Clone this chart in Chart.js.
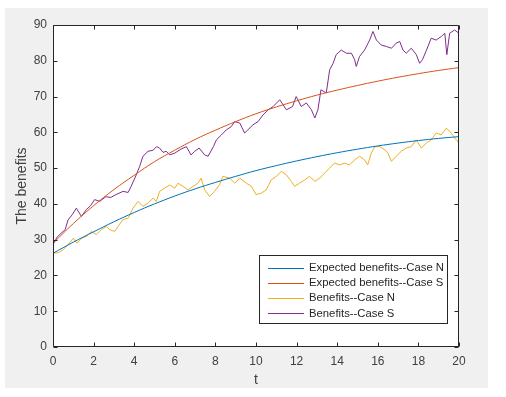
<!DOCTYPE html>
<html>
<head>
<meta charset="utf-8">
<script src="https://cdn.jsdelivr.net/npm/chart.js@4.4.1/dist/chart.umd.min.js"></script>
<style>
  html, body { margin: 0; padding: 0; background: #ffffff; }
  canvas { display: block; }
</style>
</head>
<body>
<canvas id="grafico" width="506" height="397"></canvas>
<script>
// Ticks
const xTicks = [0, 2, 4, 6, 8, 10, 12, 14, 16, 18, 20];
const yTicks = [0, 10, 20, 30, 40, 50, 60, 70, 80, 90];

// Expected curves (read at every unit of t)
const tExpected = [0, 1, 2, 3, 4, 5, 6, 7, 8, 9, 10, 11, 12, 13, 14, 15, 16, 17, 18, 19, 20];
const expectedN = [26.2, 29.3, 32.2, 35.0, 37.6, 40.0, 42.2, 44.2, 46.0, 47.7, 49.3, 50.7, 52.0, 53.2, 54.3, 55.3, 56.2, 57.0, 57.7, 58.3, 58.8];
const expectedS = [29.0, 34.5, 39.5, 44.0, 48.0, 51.8, 55.0, 58.0, 60.6, 63.0, 65.2, 67.1, 68.8, 70.4, 71.8, 73.1, 74.3, 75.4, 76.4, 77.3, 78.1];

// Benefits -- Case N (simulated path)
const tBenefitsN = [0, 0.25, 0.5, 0.74, 1.0, 1.18, 1.4, 1.64, 1.9, 2.13, 2.38, 2.63, 2.8, 3.04, 3.2, 3.45, 3.7, 3.94, 4.19, 4.43,
  4.68, 4.93, 5.09, 5.25, 5.5, 5.75, 6.0, 6.16, 6.4, 6.65, 6.9, 7.14, 7.3, 7.47, 7.72, 7.96, 8.2, 8.37, 8.7, 8.95,
  9.2, 9.52, 9.77, 10.0, 10.26, 10.5, 10.75, 11.0, 11.25, 11.5, 11.74, 11.9, 12.15, 12.4, 12.64, 12.9, 13.14, 13.38, 13.63, 13.87,
  14.12, 14.37, 14.6, 14.86, 15.1, 15.35, 15.5, 15.68, 15.85, 16.1, 16.35, 16.5, 16.67, 16.9, 17.16, 17.4, 17.65, 17.9, 18.14, 18.39,
  18.63, 18.88, 19.13, 19.38, 19.62, 19.79, 20];
const benefitsN = [26.3, 26.3, 27.2, 28.6, 30.4, 29.0, 30.4, 30.9, 32.3, 31.4, 32.8, 33.7, 32.8, 32.3, 33.7, 35.6, 36.0, 38.8, 40.7, 39.3,
  40.2, 41.6, 40.7, 43.5, 44.4, 45.3, 44.4, 45.8, 44.9, 43.9, 44.9, 45.8, 47.2, 43.9, 42.1, 43.5, 45.3, 47.7, 47.2, 45.8,
  47.2, 45.8, 44.9, 42.6, 43.0, 43.9, 46.7, 47.7, 49.1, 48.1, 46.3, 44.9, 45.8, 46.7, 47.7, 46.3, 47.2, 48.6, 50.0, 51.4,
  50.9, 51.4, 50.9, 52.3, 53.3, 52.3, 50.9, 54.2, 56.0, 56.0, 55.1, 54.2, 51.9, 53.3, 54.7, 55.6, 56.0, 57.9, 55.6, 57.0,
  57.9, 59.8, 59.3, 61.2, 59.8, 58.4, 57.0];

// Benefits -- Case S (simulated path, drops to 0 at the last step)
const tBenefitsS = [0, 0.2, 0.4, 0.6, 0.74, 0.95, 1.15, 1.4, 1.64, 1.85, 2.05, 2.3, 2.6, 2.85, 3.1, 3.45, 3.7, 3.85, 4.1, 4.27,
  4.43, 4.68, 4.93, 5.1, 5.25, 5.42, 5.58, 5.75, 6.0, 6.3, 6.57, 6.8, 6.98, 7.2, 7.47, 7.64, 7.9, 8.05, 8.3, 8.54,
  8.78, 8.95, 9.2, 9.44, 9.6, 9.85, 10.1, 10.35, 10.6, 10.84, 11.17, 11.33, 11.5, 11.8, 11.98, 12.23, 12.48, 12.73, 12.9, 13.05,
  13.2, 13.46, 13.63, 13.8, 13.95, 14.2, 14.45, 14.7, 14.86, 14.94, 15.1, 15.35, 15.6, 15.76, 15.93, 16.17, 16.42, 16.67, 16.9, 17.08,
  17.24, 17.4, 17.65, 17.9, 18.06, 18.2, 18.4, 18.63, 18.88, 19.13, 19.3, 19.4, 19.54, 19.78, 20, 20];
const benefitsS = [28.6, 30.7, 31.8, 32.8, 35.5, 37.0, 38.8, 36.5, 38.4, 39.5, 41.2, 40.7, 42.0, 41.8, 42.6, 43.5, 43.2, 44.9, 48.1, 50.5,
  53.3, 54.7, 55.0, 56.0, 55.6, 54.4, 54.7, 53.7, 54.2, 55.3, 56.0, 53.7, 54.7, 55.6, 53.7, 53.3, 56.0, 57.9, 59.3, 60.7,
  61.6, 63.0, 62.6, 59.8, 60.7, 62.1, 63.0, 64.9, 66.3, 67.2, 69.1, 67.7, 66.3, 67.2, 70.0, 67.2, 68.2, 66.3, 64.0, 66.3,
  71.9, 71.0, 77.5, 79.3, 81.7, 83.0, 82.1, 82.1, 80.3, 78.4, 81.2, 83.0, 85.8, 88.2, 85.8, 84.4, 84.0, 83.5, 84.9, 85.4,
  83.0, 82.1, 83.5, 81.7, 79.3, 80.3, 83.0, 86.3, 85.8, 86.8, 87.7, 81.7, 87.7, 88.6, 87.7, 0];

const seriesLabels = ["Expected benefits--Case N", "Expected benefits--Case S", "Benefits--Case N", "Benefits--Case S"];
const seriesColors = ["#0072BD", "#D95319", "#EDB120", "#7E2F8E"];

function puntos(xs, ys) {
    return xs.map((x, i) => ({ x: x, y: ys[i] }));
}

const TEXTO = "#404040";
const FUENTE = "'Liberation Sans', Arial, sans-serif";

// Fondo gris de la figura y área blanca de los ejes
const fondoFigura = {
    id: "fondoFigura",
    beforeDraw(chart) {
        const ctx = chart.ctx;
        const a = chart.chartArea;
        ctx.save();
        ctx.fillStyle = "#ffffff";
        ctx.fillRect(0, 0, chart.width, chart.height);
        ctx.fillStyle = "#f0f0f0";
        ctx.fillRect(5, 8, 483, 380);
        ctx.fillStyle = "#ffffff";
        ctx.fillRect(a.left, a.top, a.right - a.left, a.bottom - a.top);
        ctx.restore();
    }
};

// Caja de ejes con marcas hacia dentro y leyenda estilo MATLAB
const ejesMatlab = {
    id: "ejesMatlab",
    afterDatasetsDraw(chart) {
        const ctx = chart.ctx;
        const a = chart.chartArea;
        const xs = chart.scales.x;
        const ys = chart.scales.y;
        const L = Math.round(a.left) + 0.5, R = Math.round(a.right) - 0.5;
        const T = Math.round(a.top) + 0.5, B = Math.round(a.bottom) - 0.5;
        const largo = 4;
        ctx.save();
        ctx.strokeStyle = "#262626";
        ctx.lineWidth = 1;
        ctx.beginPath();
        ctx.rect(L, T, R - L, B - T);
        xTicks.forEach((v) => {
            const px = Math.round(xs.getPixelForValue(v)) + 0.5;
            ctx.moveTo(px, B); ctx.lineTo(px, B - largo);
            ctx.moveTo(px, T); ctx.lineTo(px, T + largo);
        });
        yTicks.forEach((v) => {
            const py = Math.round(ys.getPixelForValue(v)) + 0.5;
            ctx.moveTo(L, py); ctx.lineTo(L + largo, py);
            ctx.moveTo(R, py); ctx.lineTo(R - largo, py);
        });
        ctx.stroke();

        // Leyenda
        const caja = { x: 259.5, y: 255.5, w: 188, h: 68 };
        ctx.fillStyle = "#ffffff";
        ctx.fillRect(caja.x, caja.y, caja.w, caja.h);
        ctx.strokeStyle = "#262626";
        ctx.strokeRect(caja.x, caja.y, caja.w, caja.h);
        ctx.font = "11.3px " + FUENTE;
        ctx.textBaseline = "middle";
        ctx.textAlign = "left";
        chart.data.datasets.forEach((ds, i) => {
            const y = 267.5 + i * 15.3;
            ctx.strokeStyle = ds.borderColor;
            ctx.beginPath();
            ctx.moveTo(268, Math.round(y) + 0.5);
            ctx.lineTo(304, Math.round(y) + 0.5);
            ctx.stroke();
            ctx.fillStyle = "#262626";
            ctx.fillText(ds.label, 309, y);
        });
        ctx.restore();
    }
};

const datasets = [
    puntos(tExpected, expectedN),
    puntos(tExpected, expectedS),
    puntos(tBenefitsN, benefitsN),
    puntos(tBenefitsS, benefitsS)
].map((data, i) => ({
    label: seriesLabels[i],
    data: data,
    borderColor: seriesColors[i],
    backgroundColor: seriesColors[i],
    borderWidth: 1,
    pointRadius: 0,
    tension: i < 2 ? 0.4 : 0,
    fill: false
}));

new Chart(document.getElementById("grafico").getContext("2d"), {
    type: "line",
    data: { datasets: datasets },
    options: {
        responsive: false,
        animation: false,
        events: [],
        layout: { padding: { left: 0, right: 47, top: 25, bottom: 0 } },
        plugins: {
            legend: { display: false },
            tooltip: { enabled: false }
        },
        scales: {
            x: {
                type: "linear",
                min: 0,
                max: 20,
                grid: { display: false, drawTicks: false },
                border: { display: false },
                afterBuildTicks: (s) => { s.ticks = xTicks.map((v) => ({ value: v })); },
                afterFit: (s) => { s.height = 50; },
                ticks: { color: TEXTO, padding: 7, maxRotation: 0, font: { family: FUENTE, size: 12 } },
                title: { display: true, text: "t", color: TEXTO, padding: { top: 0, bottom: 8 }, font: { family: FUENTE, size: 14 } }
            },
            y: {
                type: "linear",
                min: 0,
                max: 90,
                grid: { display: false, drawTicks: false },
                border: { display: false },
                afterBuildTicks: (s) => { s.ticks = yTicks.map((v) => ({ value: v })); },
                afterFit: (s) => { s.width = 53; },
                ticks: { color: TEXTO, padding: 6, font: { family: FUENTE, size: 12 } },
                title: { display: true, text: "The benefits", color: TEXTO, padding: { top: 14, bottom: 0 }, font: { family: FUENTE, size: 14 } }
            }
        }
    },
    plugins: [fondoFigura, ejesMatlab]
});
</script>
</body>
</html>
